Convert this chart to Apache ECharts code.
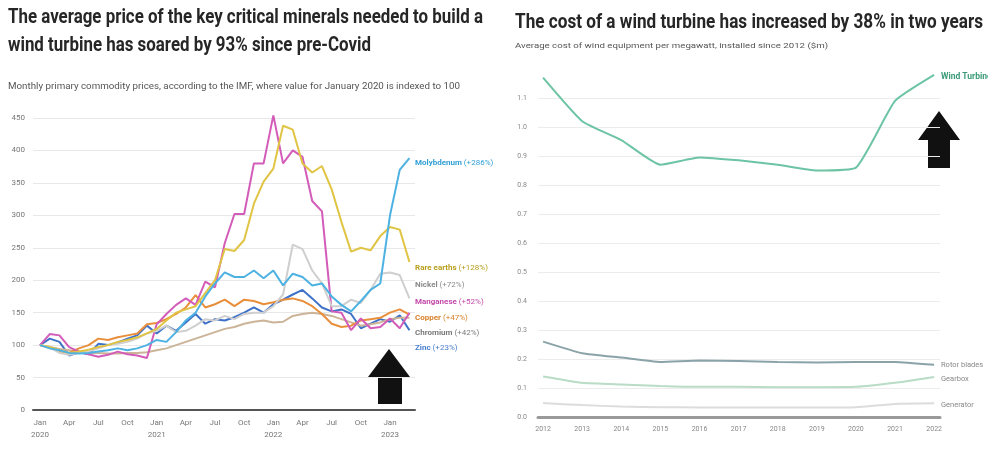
<!DOCTYPE html>
<html><head><meta charset="utf-8">
<script src="https://cdn.jsdelivr.net/npm/echarts@6/dist/echarts.min.js"></script>
<style>html,body{margin:0;padding:0;background:#fff}#c{width:988px;height:460px}</style>
</head><body><div id="c"></div>
<script>
// ---------- Left chart data (index, Jan 2020 = 100) ----------
const months = ['2020-01','2020-02','2020-03','2020-04','2020-05','2020-06','2020-07','2020-08','2020-09','2020-10','2020-11','2020-12',
  '2021-01','2021-02','2021-03','2021-04','2021-05','2021-06','2021-07','2021-08','2021-09','2021-10','2021-11','2021-12',
  '2022-01','2022-02','2022-03','2022-04','2022-05','2022-06','2022-07','2022-08','2022-09','2022-10','2022-11','2022-12',
  '2023-01','2023-02','2023-03'];
const monthTickIdx = [0,3,6,9,12,15,18,21,24,27,30,33,36];
const monthTickLabels = ['Jan\n2020','Apr','Jul','Oct','Jan\n2021','Apr','Jul','Oct','Jan\n2022','Apr','Jul','Oct','Jan\n2023'];
const leftYTicks = [0,50,100,150,200,250,300,350,400,450];

const molybdenum = [100,95,92,88,87,88,90,92,95,92,95,100,108,105,120,138,150,175,195,212,205,205,215,203,215,192,210,205,192,195,175,162,152,168,185,195,300,370,388];
const rareEarths = [100,97,92,88,90,93,97,100,105,108,112,118,125,138,150,155,160,180,200,248,245,262,318,352,372,438,432,380,366,376,340,290,244,250,246,268,282,278,228];
const nickel     = [100,97,88,85,88,90,95,100,102,105,110,118,122,130,120,122,130,140,138,145,140,148,150,150,160,178,255,248,215,195,160,160,170,165,185,210,212,208,172];
const manganese  = [100,117,115,97,90,86,82,85,90,86,84,80,132,148,162,172,162,198,189,257,302,302,380,380,454,380,400,390,322,306,152,150,123,141,126,128,141,126,150];
const copper     = [100,96,90,88,95,100,110,108,112,115,118,132,134,140,148,158,177,158,163,170,160,170,168,163,166,170,172,168,160,148,133,128,130,138,140,142,150,155,147];
const chromium   = [100,97,94,92,90,88,88,87,87,88,88,89,92,95,100,105,110,115,120,125,128,133,136,138,135,136,145,148,150,148,145,140,135,130,132,135,140,142,142];
const zinc       = [100,110,105,84,89,86,102,100,104,110,115,130,118,130,122,135,148,133,140,138,143,150,158,150,163,170,178,185,172,158,152,155,148,126,133,140,136,146,123];

const leftNames  = ['Molybdenum','Rare earths','Nickel','Manganese','Copper','Chromium','Zinc'];
const leftChange = ['+286%','+128%','+72%','+52%','+47%','+42%','+23%'];

// ---------- Right chart data ($m per MW) ----------
const years = [2012,2013,2014,2015,2016,2017,2018,2019,2020,2021,2022];
const windTurbine = [1.17,1.02,0.955,0.87,0.895,0.885,0.87,0.85,0.86,1.09,1.18];
const rotorBlades = [0.26,0.22,0.205,0.19,0.195,0.193,0.19,0.188,0.19,0.19,0.18];
const gearbox     = [0.14,0.118,0.112,0.107,0.104,0.104,0.103,0.103,0.104,0.118,0.138];
const generator   = [0.048,0.041,0.036,0.034,0.033,0.033,0.033,0.033,0.034,0.045,0.047];
const rightNames = ['Wind Turbine','Rotor blades','Gearbox','Generator'];
const rightYTicks = [0,0.1,0.2,0.3,0.4,0.5,0.6,0.7,0.8,0.9,1.0,1.1];

// ---------- styling ----------
const FONT = 'Roboto, "Liberation Sans", sans-serif';
const leftSeriesData = [molybdenum, rareEarths, nickel, manganese, copper, chromium, zinc];
const leftColors = ['#4db2e2','#e0c444','#cfcfcf','#d35cb9','#e98f3c','#cbb498','#3e72c8'];
const leftLabelColors = ['#2f9fd5','#b89f1e','#8a8a8a','#c44aaa','#d9822c','#7a7a7a','#4a7fd0'];
const leftLabelY = [163,268,285,302,318,333,348];

const rightSeriesData = [windTurbine, rotorBlades, gearbox, generator];
const rightColors = ['#6cc4a4','#8aa3a8','#b8dcc6','#dcdcdc'];
const rightLabelColors = ['#3a9a78','#888','#888','#888'];
const rightLabelY = [77,365,379,405];

const mctx = document.createElement('canvas').getContext('2d');
function fitScale(text, font, target){ mctx.font = font; return target / mctx.measureText(text).width; }

const t1 = 'The average price of the key critical minerals needed to build a';
const t2 = 'wind turbine has soared by 93% since pre-Covid';
const tFont = 'bold 21px ' + FONT;
const s1 = fitScale(t1, tFont, 475);
const sub1 = 'Monthly primary commodity prices, according to the IMF, where value for January 2020 is indexed to 100';
const subFont = '9px ' + FONT;
const ss1 = fitScale(sub1, subFont, 452);
const t3 = 'The cost of a wind turbine has increased by 38% in two years';
const s3 = fitScale(t3, tFont, 468);
const sub2 = 'Average cost of wind equipment per megawatt, installed since 2012 ($m)';
const sub2Font = '7.5px ' + FONT;
const ss2 = fitScale(sub2, sub2Font, 313);

const graphics = [
  {type:'text', x:8, y:18, scaleX:s1, style:{text:t1, font:tFont, fill:'#262626', verticalAlign:'middle'}},
  {type:'text', x:8, y:46, scaleX:s1, style:{text:t2, font:tFont, fill:'#262626', verticalAlign:'middle'}},
  {type:'text', x:8, y:87, scaleX:ss1, style:{text:sub1, font:subFont, fill:'#555', verticalAlign:'middle'}},
  {type:'text', x:515, y:23, scaleX:s3, style:{text:t3, font:tFont, fill:'#262626', verticalAlign:'middle'}},
  {type:'text', x:515, y:46, scaleX:ss2, style:{text:sub2, font:sub2Font, fill:'#555', verticalAlign:'middle'}},
  {type:'polygon', shape:{points:[[389,349],[410,377],[402,377],[402,404],[378,404],[378,377],[368,377]]}, style:{fill:'#111'}},
  {type:'polygon', shape:{points:[[939,111],[960,140],[950,140],[950,168],[928,168],[928,140],[918,140]]}, style:{fill:'#111'}}
];
leftNames.forEach((n,i)=>{
  graphics.push({type:'text', x:415, y:leftLabelY[i], style:{
    text:'{b|'+n+'} ('+leftChange[i]+')', fill:leftLabelColors[i], font:'8px '+FONT, verticalAlign:'middle',
    rich:{b:{fontWeight:'bold', fontSize:8, fontFamily:FONT, fill:leftLabelColors[i]}}}});
});
rightNames.forEach((n,i)=>{
  graphics.push({type:'text', x:941, y:rightLabelY[i], style:{
    text:n, fill:rightLabelColors[i], font:(i===0?'bold 8.5px ':'7.5px ')+FONT, verticalAlign:'middle'}});
});

const series = [];
leftSeriesData.forEach((d,i)=>{
  series.push({type:'line', name:leftNames[i], xAxisIndex:0, yAxisIndex:0, clip:false, symbol:'none',
    data:d.map((v,k)=>[k,v]), lineStyle:{width:2, color:leftColors[i]}, z: 10-i});
});
rightSeriesData.forEach((d,i)=>{
  series.push({type:'line', name:rightNames[i], xAxisIndex:1, yAxisIndex:1, clip:false, symbol:'none', smooth:0.15,
    data:d.map((v,k)=>[years[k],v]), lineStyle:{width:2, color:rightColors[i]}});
});

const axisLblL = {color:'#777', fontSize:8, fontFamily:FONT};
const option = {
  animation:false,
  backgroundColor:'#fff',
  grid:[
    {left:33, top:118, width:382, height:292},
    {left:538, top:98, width:402, height:319}
  ],
  xAxis:[
    {type:'value', gridIndex:0, min:-0.72, max:38.57,
      axisLine:{show:true, onZero:true, lineStyle:{color:'#555', width:2}},
      axisTick:{show:false}, splitLine:{show:false},
      axisLabel:{customValues:monthTickIdx, formatter:v=>monthTickLabels[monthTickIdx.indexOf(Math.round(v))]||'',
        color:'#777', fontSize:8, lineHeight:12, margin:7, fontFamily:FONT}},
    {type:'value', gridIndex:1, min:2011.87, max:2022.15,
      axisLine:{show:true, lineStyle:{color:'#9a9a9a', width:3}},
      axisTick:{show:false}, splitLine:{show:false},
      axisLabel:{customValues:years, formatter:v=>String(Math.round(v)), color:'#888', fontSize:7, margin:9, fontFamily:FONT}}
  ],
  yAxis:[
    {type:'value', gridIndex:0, min:0, max:450, interval:50,
      axisLine:{show:false}, axisTick:{show:false},
      splitLine:{lineStyle:{color:'#e8e8e8', width:1}},
      axisLabel:{...axisLblL, margin:8}},
    {type:'value', gridIndex:1, min:0, max:1.1, interval:0.1,
      axisLine:{show:false}, axisTick:{show:false},
      splitLine:{lineStyle:{color:'#ececec', width:1}},
      axisLabel:{color:'#888', fontSize:7, margin:11, fontFamily:FONT, formatter:v=>v.toFixed(1)}}
  ],
  series:series,
  graphic:graphics
};
const chart = echarts.init(document.getElementById('c'), null, {renderer:'canvas'});
chart.setOption(option);
</script>
</body></html>
